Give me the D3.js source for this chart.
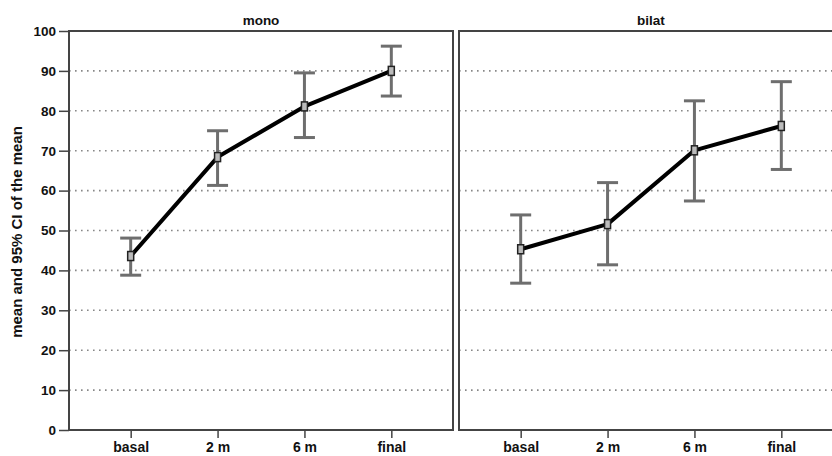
<!DOCTYPE html>
<html><head><meta charset="utf-8">
<script src="https://cdn.jsdelivr.net/npm/d3@7"></script>
<style>body{margin:0;background:#fff}svg{display:block}text{font-family:"Liberation Sans",Arial,sans-serif;font-weight:bold}</style>
</head><body><svg id="c" width="832" height="456"></svg>
<script>
const categories = ["basal","2 m","6 m","final"];
const panels = ["mono","bilat"];
const monoMean = [43.6, 68.4, 81.1, 90.0];
const monoLow  = [38.8, 61.3, 73.3, 83.7];
const monoHigh = [48.1, 75.0, 89.5, 96.2];
const bilatMean = [45.3, 51.6, 70.1, 76.2];
const bilatLow  = [36.8, 41.4, 57.4, 65.3];
const bilatHigh = [53.9, 62.0, 82.5, 87.3];
const yTicks = [0,10,20,30,40,50,60,70,80,90,100];
const yTitle = "mean and 95% CI of the mean";

const series = [
  {name: panels[0], mean: monoMean, low: monoLow, high: monoHigh},
  {name: panels[1], mean: bilatMean, low: bilatLow, high: bilatHigh}
];

const FONT = '"Liberation Sans",Arial,sans-serif';
const svg = d3.select("#c");
const plotTop = 31, plotBottom = 430;
const panelX = [69, 459], panelW = 384;
const y = d3.scaleLinear().domain([0,100]).range([plotBottom, plotTop]);

series.forEach((s, i) => {
  const x0 = panelX[i];
  const x = d3.scalePoint().domain(categories).range([x0, x0 + panelW]).padding(0.71);
  const g = svg.append("g");
  g.selectAll("line.grid").data(yTicks.filter(t => t > 0 && t < 100)).join("line")
    .attr("x1", x0).attr("x2", x0 + panelW)
    .attr("y1", d => y(d)).attr("y2", d => y(d))
    .attr("stroke", "#888").attr("stroke-width", 1.6).attr("stroke-dasharray", "1.6,4.4");
  g.append("rect").attr("x", x0).attr("y", plotTop).attr("width", panelW).attr("height", plotBottom - plotTop)
    .attr("fill", "none").attr("stroke", "#444").attr("stroke-width", 2);
  const xa = g.append("g").attr("transform", `translate(0,${plotBottom})`)
    .call(d3.axisBottom(x).tickSize(8).tickSizeOuter(0));
  xa.select(".domain").remove();
  xa.selectAll(".tick line").attr("stroke", "#444").attr("stroke-width", 1.5);
  xa.selectAll(".tick text").attr("font-size", 14).attr("fill", "#111").attr("dy", 0).attr("y", 22)
    .style("font-family", FONT).style("font-weight", "bold");
  g.append("text").attr("x", x0 + panelW/2).attr("y", 25).attr("text-anchor", "middle")
    .attr("font-size", 13.5).attr("fill", "#111").text(s.name);
  const idx = d3.range(categories.length);
  const eb = g.selectAll("g.eb").data(idx).join("g").attr("stroke", "#6e6e6e").attr("stroke-width", 3);
  eb.append("line").attr("x1", d => x(categories[d])).attr("x2", d => x(categories[d]))
    .attr("y1", d => y(s.low[d])).attr("y2", d => y(s.high[d]));
  eb.append("line").attr("x1", d => x(categories[d]) - 10.5).attr("x2", d => x(categories[d]) + 10.5)
    .attr("y1", d => y(s.low[d])).attr("y2", d => y(s.low[d]));
  eb.append("line").attr("x1", d => x(categories[d]) - 10.5).attr("x2", d => x(categories[d]) + 10.5)
    .attr("y1", d => y(s.high[d])).attr("y2", d => y(s.high[d]));
  const line = d3.line().x(d => x(categories[d])).y(d => y(s.mean[d]));
  g.append("path").datum(idx).attr("d", line).attr("fill", "none")
    .attr("stroke", "#000").attr("stroke-width", 4).attr("stroke-linejoin", "round");
  g.selectAll("rect.m").data(idx).join("rect")
    .attr("x", d => x(categories[d]) - 3).attr("y", d => y(s.mean[d]) - 4.5)
    .attr("width", 6).attr("height", 9)
    .attr("fill", "#bbb").attr("stroke", "#222").attr("stroke-width", 1.5);
});

const ya = svg.append("g").attr("transform", `translate(${panelX[0]},0)`)
  .call(d3.axisLeft(y).tickValues(yTicks).tickSize(10).tickPadding(3).tickSizeOuter(0));
ya.select(".domain").remove();
ya.selectAll(".tick line").attr("stroke", "#444").attr("stroke-width", 1.5);
ya.selectAll(".tick text").attr("font-size", 13.5).attr("fill", "#111")
  .style("font-family", FONT).style("font-weight", "bold");

svg.append("text").attr("transform", `translate(22,232) rotate(-90)`)
  .attr("text-anchor", "middle").attr("font-size", 15).attr("fill", "#111").text(yTitle);
</script></body></html>
